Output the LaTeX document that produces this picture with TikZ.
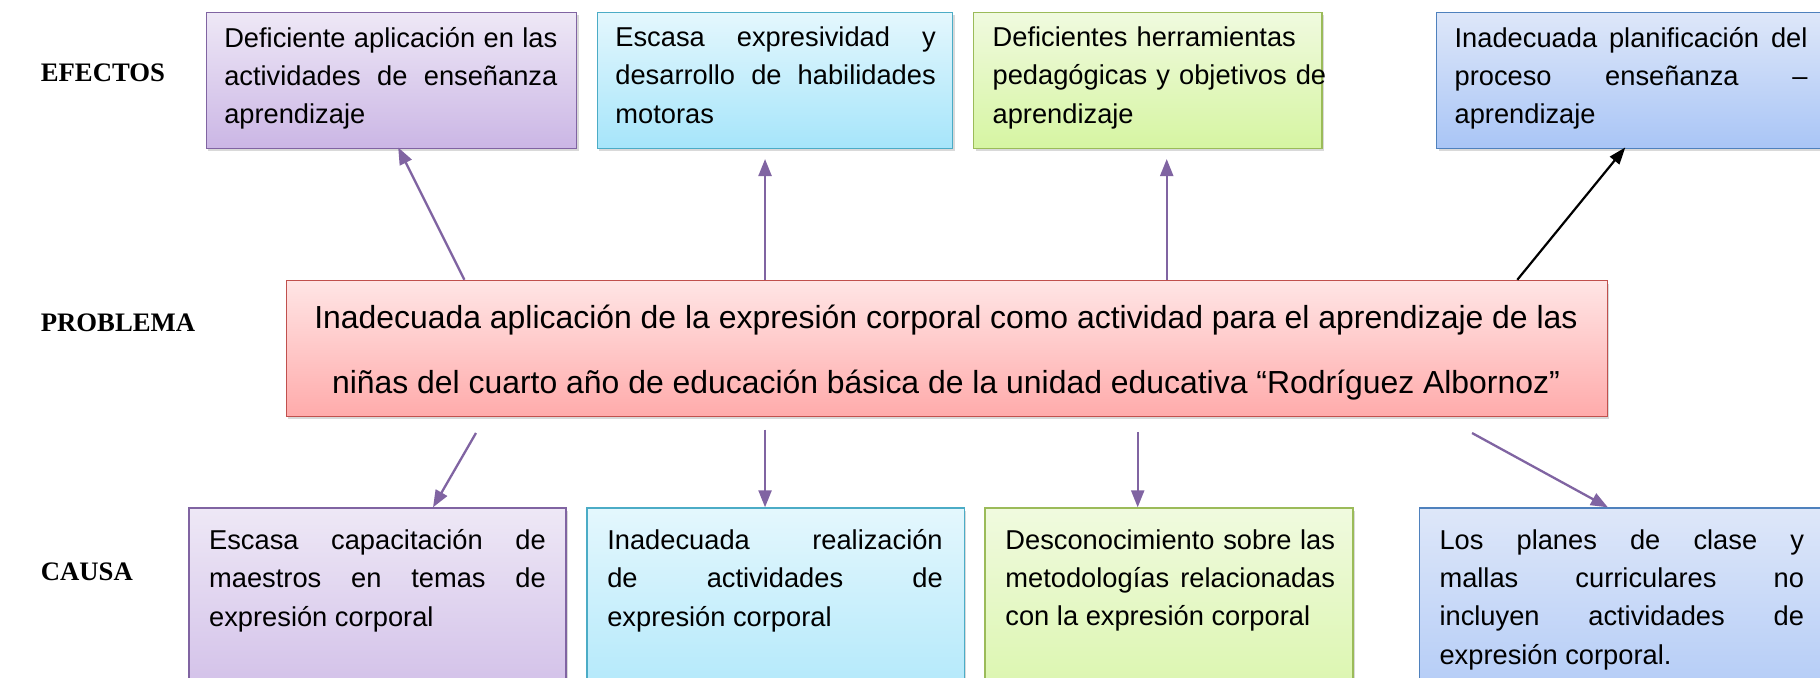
\documentclass[tikz,border=0pt]{standalone}
\usepackage{fontspec}
\setmainfont{Liberation Sans}
\newfontfamily\lblfont{Liberation Serif}
\usetikzlibrary{arrows.meta,shadows,calc}
\definecolor{bdPurple}{HTML}{8064A2}
\definecolor{tPurple}{HTML}{EEE8F6}
\definecolor{bPurple}{HTML}{CBB6E5}
\definecolor{bdCyan}{HTML}{4BACC6}
\definecolor{tCyan}{HTML}{E4F7FD}
\definecolor{bCyan}{HTML}{A6E5FA}
\definecolor{bdGreen}{HTML}{9BBB59}
\definecolor{tGreen}{HTML}{F0FADF}
\definecolor{bGreen}{HTML}{D6F5A2}
\definecolor{bdBlue}{HTML}{4F81BD}
\definecolor{tBlue}{HTML}{DEE7F9}
\definecolor{bBlue}{HTML}{A9C5F6}
\definecolor{bdRed}{HTML}{C0504D}
\definecolor{tRed}{HTML}{FFE5E5}
\definecolor{bRed}{HTML}{FFABAB}
\definecolor{arrPurple}{HTML}{8064A2}
\begin{document}
\begin{tikzpicture}[x=1pt,y=-1pt, scale=1.1607, every node/.append style={transform shape},
  box/.style={draw, line width=1.5pt, rectangle, anchor=north west, inner sep=0pt,
    drop shadow={shadow xshift=2pt, shadow yshift=-3pt, opacity=0.3}},
  purplebox/.style={box, draw=bdPurple, top color=tPurple, bottom color=bPurple},
  cyanbox/.style={box, draw=bdCyan, top color=tCyan, bottom color=bCyan},
  greenbox/.style={box, draw=bdGreen, top color=tGreen, bottom color=bGreen},
  bluebox/.style={box, draw=bdBlue, top color=tBlue, bottom color=bBlue},
  redbox/.style={box, draw=bdRed, top color=tRed, bottom color=bRed},
  txt/.style={anchor=north west, inner sep=0pt, align=justify,
    font={\fontsize{23.5}{33}\selectfont\hyphenpenalty=10000}},
  ragged/.style={txt, align=left},
  lbl/.style={anchor=west, inner sep=0pt, font={\lblfont\bfseries\fontsize{23}{28}\selectfont}},
  arr/.style={draw=arrPurple, line width=2.3pt, -{Triangle[length=17pt,width=13pt]}},
  blackarr/.style={draw=black, line width=2.2pt, -{Triangle[length=17pt,width=12pt]}}
]
\useasboundingbox (0,0) rectangle (1568,583.3);

% labels
\node[lbl] (lef) at (35,63) {EFECTOS};
\node[lbl] (lpr) at (35,278) {PROBLEMA};
\node[lbl] (lca) at (35,493) {CAUSA};

% effect boxes
\node[purplebox, minimum width=319pt, minimum height=117pt] (e1) at (177,10) {};
\node[cyanbox,   minimum width=306pt, minimum height=117pt] (e2) at (514,10) {};
\node[greenbox,  minimum width=300pt, minimum height=117pt] (e3) at (838,10) {};
\node[bluebox,   minimum width=340pt, minimum height=117pt] (e4) at (1237,10) {};

\node[txt, text width=287pt] (te1) at (193,23) {Deficiente aplicación en las\linebreak actividades de enseñanza\linebreak aprendizaje};
\node[txt, text width=276pt] (te2) at (530,23) {Escasa expresividad y\linebreak desarrollo de habilidades\linebreak motoras};
\node[ragged, text width=292pt] (te3) at (855,23) {Deficientes herramientas\\ pedagógicas y objetivos de\\ aprendizaje};
\node[txt, text width=304pt] (te4) at (1253,23) {Inadecuada planificación del\linebreak proceso enseñanza –\linebreak aprendizaje};

% problem box
\node[redbox, minimum width=1138pt, minimum height=117pt] (p) at (246,241) {};
\node[inner sep=0pt, align=center, font={\fontsize{27.5}{56}\selectfont}] (tp) at (815,304)
  {Inadecuada aplicación de la expresión corporal como actividad para el aprendizaje de las\\
   niñas del cuarto año de educación básica de la unidad educativa “Rodríguez Albornoz”};

% cause boxes
\node[purplebox, minimum width=325pt, minimum height=200pt] (c1) at (162,437) {};
\node[cyanbox,   minimum width=325pt, minimum height=200pt] (c2) at (505,437) {};
\node[greenbox,  minimum width=317pt, minimum height=200pt] (c3) at (848,437) {};
\node[bluebox,   minimum width=355pt, minimum height=200pt] (c4) at (1222,437) {};

\node[txt, text width=290pt] (tc1) at (180,456) {Escasa capacitación de\linebreak maestros en temas de\linebreak expresión corporal};
\node[txt, text width=289pt] (tc2) at (523,456) {Inadecuada realización\linebreak de actividades de\linebreak expresión corporal};
\node[txt, text width=284pt] (tc3) at (866,456) {Desconocimiento sobre las\linebreak metodologías relacionadas\linebreak con la expresión corporal};
\node[txt, text width=314pt] (tc4) at (1240,456) {Los planes de clase y\linebreak mallas curriculares no\linebreak incluyen actividades de\linebreak expresión corporal.};

% arrows problem -> effects
\coordinate (a1s) at (400,241);
\coordinate (a1e) at (343,127);
\coordinate (a2s) at (659,241);
\coordinate (a2e) at (659,137);
\coordinate (a3s) at (1005,241);
\coordinate (a3e) at (1005,137);
\coordinate (a4s) at (1307,241);
\coordinate (a4e) at (1400,127);
\draw[arr] (a1s) -- (a1e);
\draw[arr] (a2s) -- (a2e);
\draw[arr] (a3s) -- (a3e);
\draw[blackarr] (a4s) -- (a4e);

% arrows -> causes
\coordinate (b1s) at (410,373);
\coordinate (b1e) at (373,437);
\coordinate (b2s) at (659,370);
\coordinate (b2e) at (659,437);
\coordinate (b3s) at (980,372);
\coordinate (b3e) at (980,437);
\coordinate (b4s) at (1268,373);
\coordinate (b4e) at (1385,437);
\draw[arr] (b1s) -- (b1e);
\draw[arr] (b2s) -- (b2e);
\draw[arr] (b3s) -- (b3e);
\draw[arr] (b4s) -- (b4e);
\end{tikzpicture}
\end{document}
